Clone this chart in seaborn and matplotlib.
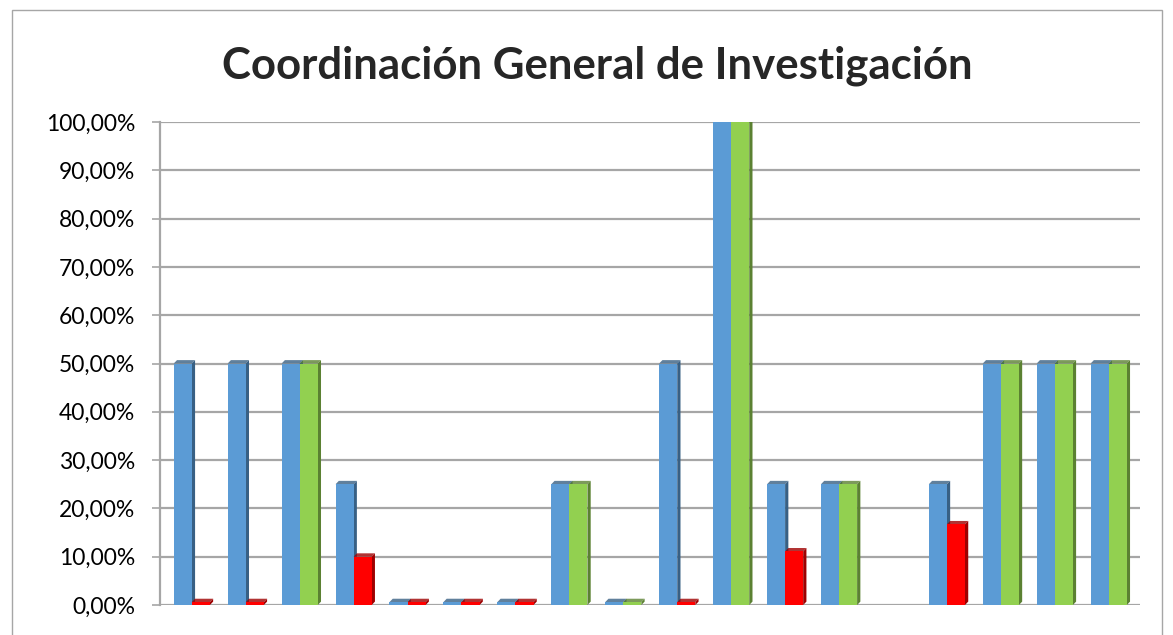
import pandas as pd
import matplotlib.pyplot as plt
import seaborn as sns
from matplotlib.patches import Rectangle, Polygon
from matplotlib.colors import to_rgb

# Datos (porcentaje)
categorias = [f"C{i}" for i in range(1, 19)]
serie_azul = [50, 50, 50, 25, 0, 0, 0, 25, 0, 50, 100, 25, 25, None, 25, 50, 50, 50]
serie_segunda = [0, 0, 50, 10, 0, 0, 0, 25, 0, 0, 100, 11.1, 25, None, 16.7, 50, 50, 50]
# rojo = "r", verde = "g"
tipo_segunda = ["r", "r", "g", "r", "r", "r", "r", "g", "g", "r", "g", "r", "g", "r", "r", "g", "g", "g"]
marcas_y = [0, 10, 20, 30, 40, 50, 60, 70, 80, 90, 100]

AZUL = "#5b9bd5"
ROJO = "#ff0000"
VERDE = "#92d050"
colores = {"r": ROJO, "g": VERDE}

sns.set_style("white")
plt.rcParams['font.family'] = ['Lato', 'DejaVu Sans']

df = pd.DataFrame({
    "cat": categorias * 2,
    "valor": serie_azul + serie_segunda,
    "serie": ["azul"] * 18 + ["segunda"] * 18,
})

fig = plt.figure(figsize=(11.73, 6.35), dpi=100)
ax = fig.add_axes([160 / 1173, 1 - 605 / 635, (1140 - 160) / 1173, (605 - 122) / 635])

sns.barplot(data=df, x="cat", y="valor", hue="serie", order=categorias,
            hue_order=["azul", "segunda"], palette=[AZUL, VERDE], width=0.67,
            gap=0, legend=False, ax=ax, saturation=1, zorder=3, linewidth=0)

# colorear la segunda serie por punto y añadir cara lateral (efecto 3D)
barras = [p for p in ax.patches if isinstance(p, Rectangle)]
for p in barras:
    h = p.get_height()
    if pd.isna(h):
        continue
    x0, w = p.get_x(), p.get_width()
    centro = x0 + w / 2
    k = int(round(centro))
    segunda = centro > k
    p.set_facecolor(colores[tipo_segunda[k]] if segunda else AZUL)
    p.set_zorder(3.2 if segunda else 3.0)
    p.set_linewidth(0)
    c = p.get_facecolor()
    top = max(h, 0.6)
    if h < 0.6:
        p.set_height(0.6)
    dark = tuple(v * 0.62 for v in to_rgb(c))
    dx = w * 0.18
    z = 3.1 if segunda else 2.9
    side = Polygon([(x0 + w, 0), (x0 + w + dx, 0.7), (x0 + w + dx, top + 0.7), (x0 + w, top)],
                   closed=True, facecolor=dark, edgecolor='none', zorder=z)
    ax.add_patch(side)
    cap = Polygon([(x0, top), (x0 + dx, top + 0.7), (x0 + w + dx, top + 0.7), (x0 + w, top)],
                  closed=True, facecolor=dark, edgecolor='none', zorder=z, alpha=0.8)
    ax.add_patch(cap)

ax.set_xlim(-0.59, 17.58)
ax.set_ylim(0, 100)
ax.set_yticks(marcas_y)
ax.set_yticklabels([f"{v:.2f}%".replace(".", ",") for v in marcas_y], fontsize=16.5)
ax.set_xticks([])
ax.set_xlabel("")
ax.set_ylabel("")
for v in marcas_y:
    ax.axhline(v, color="#a6a6a6", lw=1.6, zorder=1)
for s in ["top", "right", "bottom"]:
    ax.spines[s].set_visible(False)
ax.spines["left"].set_color("#a6a6a6")
ax.spines["left"].set_linewidth(1.6)
ax.tick_params(axis="y", length=6, color="#a6a6a6", width=1.2, pad=12, direction="out",
               left=True, labelcolor="black")

fig.text(597 / 1173, 1 - 66 / 635, "Coordinación General de Investigación",
         ha="center", va="center", fontsize=31.5, fontweight="bold")

# borde del área del gráfico
fig.patches.append(Rectangle((12 / 1173, -0.05), (1162 - 12) / 1173, 1.05 - 10 / 635,
                             transform=fig.transFigure, fill=False, edgecolor="#a6a6a6", lw=1))

fig.savefig("out.png", dpi=100)
